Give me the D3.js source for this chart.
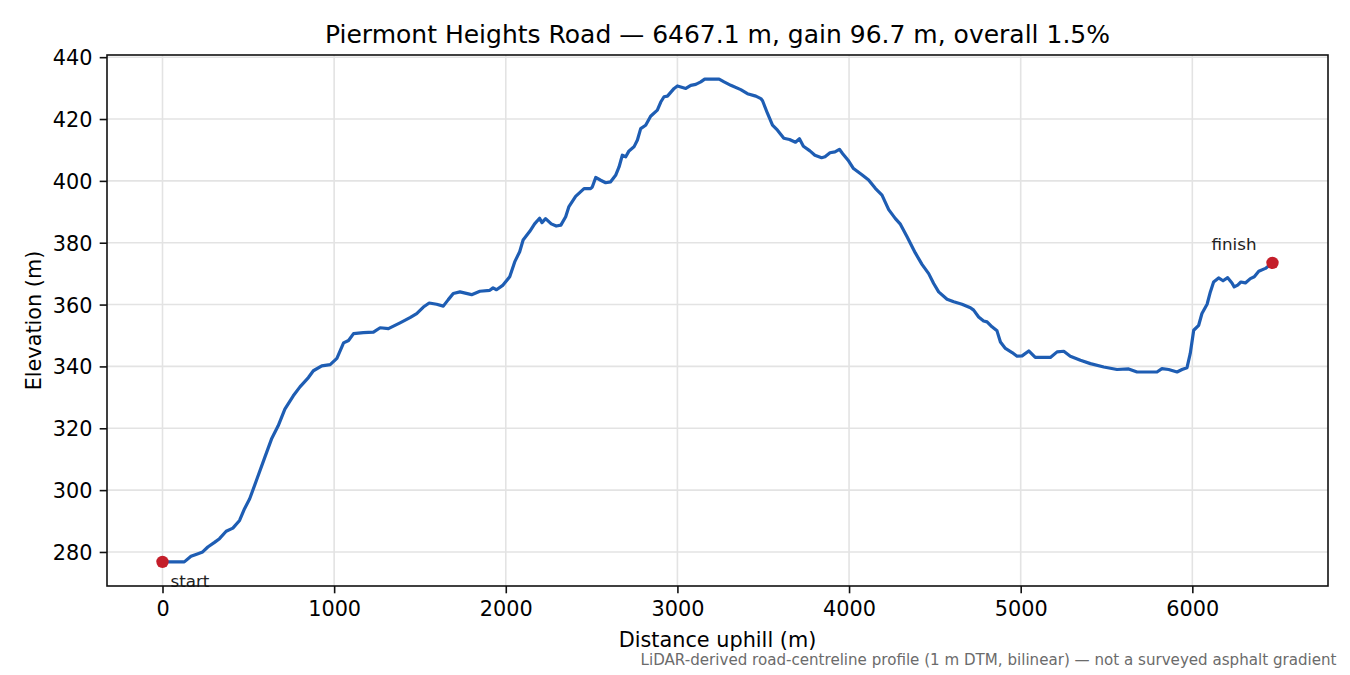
<!DOCTYPE html>
<html>
<head>
<meta charset="utf-8">
<script src="https://cdn.jsdelivr.net/npm/d3@7"></script>
<style>
  body { margin: 0; background: #fff; }
  svg { font-family: "DejaVu Sans", sans-serif; }
</style>
</head>
<body>
<div id="chart"></div>
<script>
// elevation profile, distance along road (m) vs elevation (m)
let distM = [0, 60, 127, 166, 195, 234, 264, 303, 332, 371, 410, 449, 478, 508, 547, 596, 635, 674, 713, 762,
    801, 850, 879, 928, 977, 1016, 1055, 1084, 1113, 1170, 1229, 1268, 1316, 1384, 1442, 1481, 1520, 1554, 1597, 1636,
    1665, 1694, 1733, 1801, 1849, 1907, 1926, 1946, 1984, 2023, 2052, 2081, 2101, 2139, 2168, 2197, 2211, 2232, 2265, 2294,
    2321, 2349, 2368, 2407, 2456, 2494, 2504, 2524, 2553, 2582, 2611, 2640, 2660, 2679, 2699, 2718, 2747, 2767, 2786, 2815,
    2844, 2883, 2903, 2922, 2942, 2981, 3000, 3049, 3078, 3107, 3136, 3159, 3243, 3272, 3311, 3369, 3408, 3457, 3486, 3496,
    3525, 3554, 3583, 3620, 3653, 3688, 3711, 3734, 3772, 3801, 3840, 3860, 3889, 3918, 3944, 3963, 3998, 4026, 4075, 4114,
    4153, 4192, 4231, 4270, 4299, 4338, 4386, 4425, 4464, 4493, 4522, 4571, 4610, 4658, 4707, 4726, 4755, 4784, 4804, 4833,
    4862, 4882, 4911, 4950, 4979, 5008, 5047, 5085, 5173, 5212, 5251, 5289, 5348, 5406, 5484, 5561, 5629, 5678, 5736, 5794,
    5823, 5862, 5911, 5940, 5969, 5988, 6008, 6037, 6056, 6086, 6105, 6124, 6153, 6179, 6206, 6231, 6244, 6264, 6283, 6309,
    6338, 6361, 6387, 6426, 6467.1];
let elevM = [276.8, 276.8, 276.8, 278.6, 279.2, 280.0, 281.6, 283.1, 284.3, 286.7, 287.7, 290.2, 294.0, 297.2, 303.1, 310.6, 316.5, 320.8, 326.2, 330.5,
    333.4, 336.4, 338.6, 340.2, 340.6, 342.6, 347.6, 348.4, 350.6, 350.9, 351.1, 352.5, 352.2, 354.1, 355.8, 357.1, 359.2, 360.5, 360.1, 359.5,
    361.6, 363.6, 364.1, 363.2, 364.3, 364.6, 365.4, 364.8, 366.3, 369.0, 373.8, 377.1, 380.9, 383.6, 386.1, 387.9, 386.5, 387.8, 386.1, 385.4,
    385.7, 388.4, 391.7, 395.0, 397.5, 397.5, 398.0, 401.1, 400.2, 399.4, 399.7, 401.8, 404.5, 408.3, 407.8, 409.7, 411.0, 413.2, 416.9, 418.0,
    420.9, 422.9, 425.5, 427.2, 427.4, 429.9, 430.7, 429.9, 430.9, 431.2, 432.0, 432.9, 432.9, 432.0, 430.9, 429.5, 428.2, 427.4, 426.6, 425.9,
    421.8, 418.0, 416.4, 413.8, 413.4, 412.5, 413.6, 411.2, 409.7, 408.3, 407.5, 407.8, 409.1, 409.4, 410.2, 408.8, 406.4, 404.0, 402.0, 400.3,
    397.6, 395.4, 390.7, 387.8, 386.0, 381.9, 376.7, 373.0, 370.0, 366.8, 364.1, 361.7, 360.9, 360.1, 359.0, 358.2, 356.0, 354.7, 354.4, 352.8,
    351.5, 347.9, 345.8, 344.5, 343.3, 343.4, 345.0, 342.9, 342.9, 344.7, 344.9, 343.3, 342.0, 340.9, 339.8, 339.0, 339.2, 338.2, 338.2, 338.2,
    339.3, 339.0, 338.2, 339.0, 339.6, 344.2, 351.7, 353.3, 357.1, 360.1, 364.1, 367.3, 368.6, 367.7, 368.7, 367.0, 365.7, 366.3, 367.3, 367.0,
    368.4, 369.0, 370.8, 371.7, 373.5];

let xTicks = [0, 1000, 2000, 3000, 4000, 5000, 6000];
let yTicks = [280, 300, 320, 340, 360, 380, 400, 420, 440];

let titleText = 'Piermont Heights Road \u2014 6467.1 m, gain 96.7 m, overall 1.5%';
let xLabel = 'Distance uphill (m)';
let yLabel = 'Elevation (m)';
let noteText = 'LiDAR-derived road-centreline profile (1 m DTM, bilinear) \u2014 not a surveyed asphalt gradient';

let svgwidth = 1350;
let svgheight = 675;

let margin = {
    top: 55,
    right: 22,
    bottom: 89,
    left: 107
};

let width = svgwidth - margin.left - margin.right;
let height = svgheight - margin.top - margin.bottom;

let profile = distM.map((d, i) => ({ dist: d, elev: elevM[i] }));

let svg = d3.select('#chart')
    .append('svg')
    .attr('width', svgwidth)
    .attr('height', svgheight);

let chartgroup = svg.append('g')
    .attr('transform', `translate(${margin.left}, ${margin.top})`);

// matplotlib style 5% padding around the data
let xext = d3.extent(profile, d => d.dist);
let yext = d3.extent(profile, d => d.elev);
let xpad = (xext[1] - xext[0]) * 0.05;
let ypad = (yext[1] - yext[0]) * 0.05;

let xlinearscale = d3.scaleLinear()
    .domain([xext[0] - xpad, xext[1] + xpad])
    .range([0, width]);

let ylinearscale = d3.scaleLinear()
    .domain([yext[0] - ypad, yext[1] + ypad])
    .range([height, 0]);

// grid
chartgroup.append('g')
    .selectAll('line')
    .data(xTicks)
    .enter()
    .append('line')
    .attr('x1', d => xlinearscale(d))
    .attr('x2', d => xlinearscale(d))
    .attr('y1', 0)
    .attr('y2', height)
    .attr('stroke', '#e3e3e3')
    .attr('stroke-width', 1.6);

chartgroup.append('g')
    .selectAll('line')
    .data(yTicks)
    .enter()
    .append('line')
    .attr('x1', 0)
    .attr('x2', width)
    .attr('y1', d => ylinearscale(d))
    .attr('y2', d => ylinearscale(d))
    .attr('stroke', '#e3e3e3')
    .attr('stroke-width', 1.6);

// profile line
let line = d3.line()
    .x(d => xlinearscale(d.dist))
    .y(d => ylinearscale(d.elev));

chartgroup.append('path')
    .datum(profile)
    .attr('fill', 'none')
    .attr('stroke', '#1e5db3')
    .attr('stroke-width', 3.2)
    .attr('stroke-linejoin', 'round')
    .attr('stroke-linecap', 'round')
    .attr('d', line);

// start / finish markers
let ends = [profile[0], profile[profile.length - 1]];

chartgroup.selectAll('.endDot')
    .data(ends)
    .enter()
    .append('circle')
    .classed('endDot', true)
    .attr('cx', d => xlinearscale(d.dist))
    .attr('cy', d => ylinearscale(d.elev))
    .attr('r', 6.2)
    .attr('fill', '#c41e2a');

chartgroup.append('text')
    .attr('x', xlinearscale(ends[0].dist) + 8)
    .attr('y', ylinearscale(ends[0].elev) + 25)
    .attr('font-size', '16.7px')
    .attr('fill', '#222')
    .text('start');

chartgroup.append('text')
    .attr('x', xlinearscale(ends[1].dist) - 16)
    .attr('y', ylinearscale(ends[1].elev) - 12.5)
    .attr('text-anchor', 'end')
    .attr('font-size', '16.7px')
    .attr('fill', '#222')
    .text('finish');

// axes
let bottomAxis = d3.axisBottom(xlinearscale)
    .tickValues(xTicks)
    .tickSize(7.3)
    .tickPadding(7.3)
    .tickFormat(d3.format('d'));

let leftAxis = d3.axisLeft(ylinearscale)
    .tickValues(yTicks)
    .tickSize(7.3)
    .tickPadding(7.3)
    .tickFormat(d3.format('d'));

let XAxiss = chartgroup.append('g')
    .attr('transform', `translate(0, ${height})`)
    .call(bottomAxis);

let YAxiss = chartgroup.append('g')
    .call(leftAxis);

[XAxiss, YAxiss].forEach(ax => {
    ax.select('.domain').remove();
    ax.selectAll('line').attr('stroke', '#111').attr('stroke-width', 1.6);
    ax.selectAll('text')
        .attr('font-size', '20.8px')
        .attr('font-family', '"DejaVu Sans", sans-serif')
        .attr('fill', '#000');
});
XAxiss.selectAll('text').attr('dy', '0.76em');
YAxiss.selectAll('text').attr('dy', '0.36em');

// frame
chartgroup.append('rect')
    .attr('x', 0)
    .attr('y', 0)
    .attr('width', width)
    .attr('height', height)
    .attr('fill', 'none')
    .attr('stroke', '#111')
    .attr('stroke-width', 1.6);

// titles
svg.append('text')
    .attr('x', margin.left + width / 2)
    .attr('y', 42.5)
    .attr('text-anchor', 'middle')
    .attr('font-size', '25px')
    .attr('fill', '#000')
    .text(titleText);

svg.append('text')
    .attr('x', margin.left + width / 2)
    .attr('y', 647)
    .attr('text-anchor', 'middle')
    .attr('font-size', '20.8px')
    .attr('fill', '#000')
    .text(xLabel);

svg.append('text')
    .attr('transform', `translate(41, ${margin.top + height / 2}) rotate(-90)`)
    .attr('text-anchor', 'middle')
    .attr('font-size', '20.8px')
    .attr('fill', '#000')
    .text(yLabel);

svg.append('text')
    .attr('x', 1336.5)
    .attr('y', 664.5)
    .attr('text-anchor', 'end')
    .attr('font-size', '15.1px')
    .attr('fill', '#6b6b6b')
    .text(noteText);
</script>
</body>
</html>
